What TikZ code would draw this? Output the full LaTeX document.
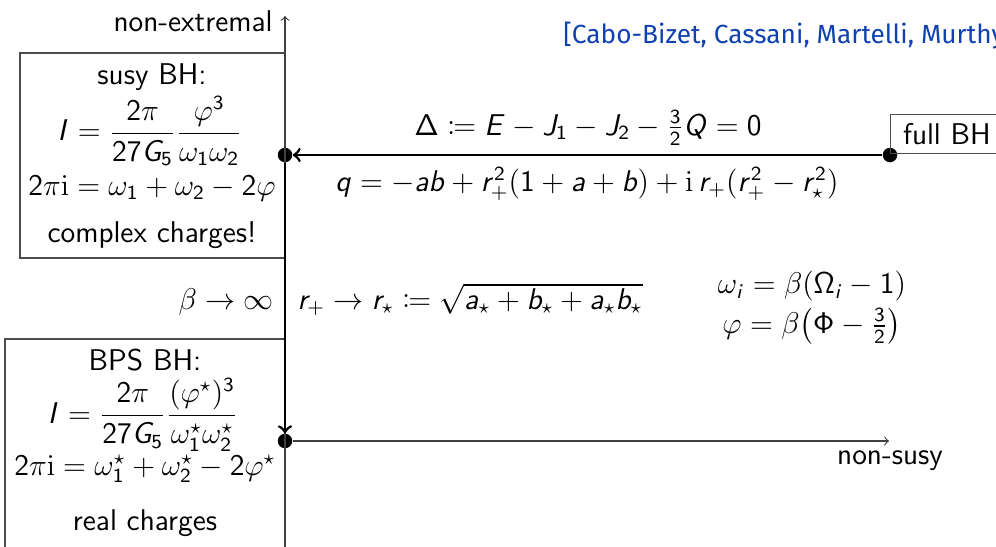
\documentclass[tikz,border=0pt]{standalone}
\usepackage{amsmath}
\usepackage{mathtools}
\usepackage[no-math]{fontspec}
\newfontfamily\citefont{Fira Sans}
% beamer-like sans math: Latin letters and digits from cmss
\DeclareSymbolFont{sfup}{OT1}{cmss}{m}{n}
\DeclareSymbolFont{sfsl}{OT1}{cmss}{m}{sl}
\newcount\ltrcnt
\ltrcnt=97
\loop
  \mathcode\ltrcnt=\numexpr"7000+\symsfsl*256+\ltrcnt\relax
  \advance\ltrcnt by 1
\ifnum\ltrcnt<123 \repeat
\ltrcnt=65
\loop
  \mathcode\ltrcnt=\numexpr"7000+\symsfsl*256+\ltrcnt\relax
  \advance\ltrcnt by 1
\ifnum\ltrcnt<91 \repeat
\ltrcnt=48
\loop
  \mathcode\ltrcnt=\numexpr"7000+\symsfup*256+\ltrcnt\relax
  \advance\ltrcnt by 1
\ifnum\ltrcnt<58 \repeat
\DeclareMathSymbol{\Delta}{\mathalpha}{sfup}{"01}
\DeclareMathSymbol{\Phi}{\mathalpha}{sfup}{"08}
\DeclareMathSymbol{\Omega}{\mathalpha}{sfup}{"0A}
\definecolor{citeblue}{RGB}{15,65,175}
\begin{document}
\begin{tikzpicture}[x=0.4pt,y=-0.4pt,
  every node/.style={font=\sffamily\fontsize{12}{14}\selectfont},
  dot/.style={circle,fill=black,inner sep=0pt,minimum size=5.8pt},
  thinline/.style={draw=black!75,line width=0.45pt},
  thickline/.style={draw=black,line width=1.1pt},
  boxline/.style={draw=black!70,line width=0.45pt},
  txt/.style={inner sep=0pt},
  >=to]
\useasboundingbox (0,0) rectangle (996,547);
\clip (0,0) rectangle (996,547);
% boxes
\draw[boxline] (285,53) -- (20,53) -- (20,258) -- (285,258);
\draw[boxline] (285,339) -- (5,339) -- (5,560);
% points
\node[dot] (susy) at (285,155) {};
\node[dot] (full) at (890,155) {};
\node[dot] (bps) at (285,441) {};
\coordinate (axtop) at (285,16);
\coordinate (axbot) at (285,560);
\coordinate (nsend) at (889,441);
% axes
\draw[thinline,->] (axbot) -- (axtop);
\draw[thinline,->] (bps) -- (nsend);
\draw[thickline,->] (full) -- (susy);
\draw[thickline,->] (susy) -- (bps);
\node[boxline,anchor=south west,inner xsep=5pt,inner ysep=0pt,minimum height=15.6pt] (fullbox) at (890,154) {full BH};
% axis labels
\node[txt,anchor=east] (nonext) at (273,21) {non-extremal};
\node[txt] (nonsusy) at (890,461) {non-susy};
% susy box
\node[txt] (susyt) at (152,77) {susy BH:};
\node[txt] (susyI) at (150,131) {$I=\dfrac{2\pi}{27G_5}\dfrac{\varphi^3}{\omega_1\omega_2}$};
\node[txt] (susyc) at (152,188) {$2\pi\mathrm{i}=\omega_1+\omega_2-2\varphi$};
\node[txt] (susyq) at (152,235) {complex charges!};
% bps box
\node[txt] (bpst) at (145,360) {BPS BH:};
\node[txt] (bpsI) at (143,415) {$I=\dfrac{2\pi}{27G_5}\dfrac{(\varphi^\star)^3}{\omega_1^\star\omega_2^\star}$};
\node[txt] (bpsc) at (145,469) {$2\pi\mathrm{i}=\omega_1^\star+\omega_2^\star-2\varphi^\star$};
\node[txt] (bpsq) at (145,523) {real charges};
% central formulas
\node[txt] (delta) at (588,128) {$\Delta\coloneqq E-J_1-J_2-\tfrac{3}{2}Q=0$};
\node[txt] (qform) at (587,184) {$q=-ab+r_+^2(1+a+b)+\mathrm{i}\,r_+(r_+^2-r_\star^2)$};
\node[txt,anchor=base east] (beta) at (274,309) {$\beta\to\infty$};
\node[txt,anchor=base west] (rlim) at (297,309) {$r_+\to r_\star\coloneqq\sqrt{a_\star+b_\star+a_\star b_\star}$};
\node[txt] (omeg) at (812,286) {$\omega_i=\beta(\Omega_i-1)$};
\node[txt] (phif) at (812,326) {$\varphi=\beta\bigl(\Phi-\tfrac{3}{2}\bigr)$};
% citation
\node[txt,anchor=west,text=citeblue,font=\citefont\fontsize{10.5}{12}\selectfont] (cite) at (563,36) {[Cabo-Bizet, Cassani, Martelli, Murthy};
\end{tikzpicture}
\end{document}
